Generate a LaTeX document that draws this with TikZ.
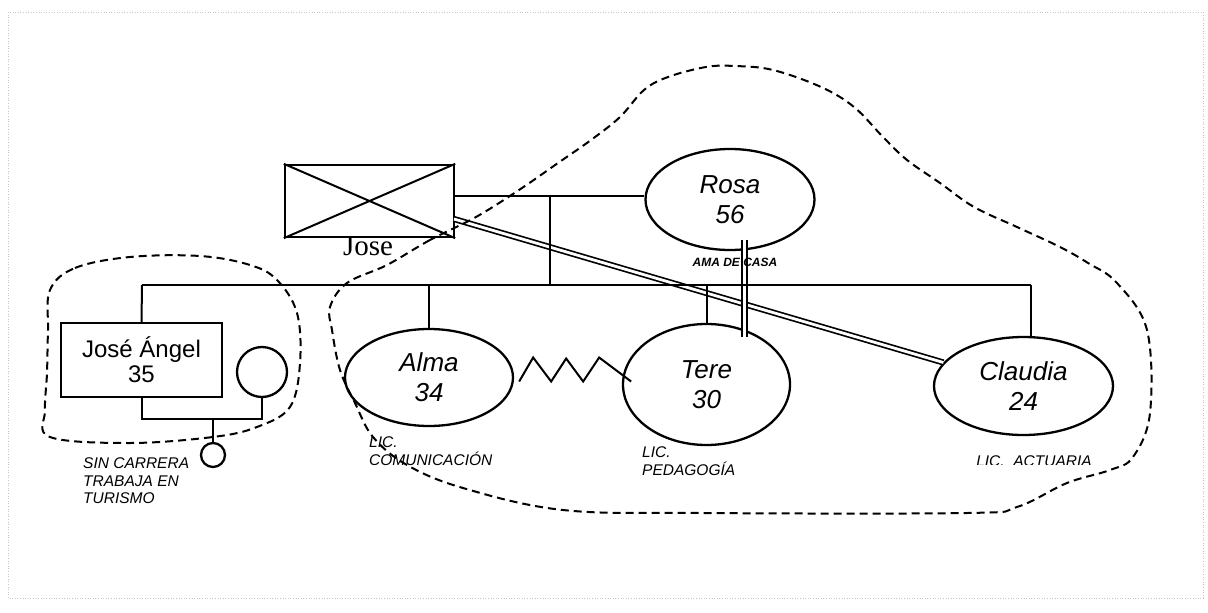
\documentclass[tikz,border=0pt]{standalone}
\usepackage{fontspec}
\setmainfont{Liberation Serif}
\setsansfont{Liberation Sans}
\usetikzlibrary{shapes.geometric}
\tikzset{
  mujer/.style={ellipse, draw, line width=2.3pt, inner sep=0pt, align=center,
    font=\sffamily\itshape\fontsize{26}{30}\selectfont},
  caja/.style={draw, line width=2.3pt, inner sep=0pt},
  nota/.style={inner sep=0pt, align=left, anchor=north west,
    font=\sffamily\itshape\fontsize{15.5}{17.5}\selectfont},
  linea/.style={line width=2pt},
  doble/.style={double, double distance=2.8pt, line width=1.7pt},
  nube/.style={dash pattern=on 8pt off 5pt, line width=2pt},
}
\begin{document}
\begin{tikzpicture}[x=1pt, y=-1pt]
\useasboundingbox (0,0) rectangle (1208,613);
% Marco
\draw[gray!45, dotted, line width=0.6pt] (8,12) rectangle (1203,598);

% Padres
\node[caja, minimum width=169pt, minimum height=72pt] (jose) at (369.5,201) {};
\draw[linea] (jose.north west) -- (jose.south east) (jose.south west) -- (jose.north east);
\node[inner sep=0pt, anchor=north, font=\fontsize{29}{32}\selectfont] (josenombre) at (368,236) {Jose};
\node[mujer, minimum width=169pt, minimum height=101pt] (rosa) at (730,199.5) {Rosa\\56};

% Hijos
\node[caja, minimum width=161pt, minimum height=74pt, align=center,
  font=\sffamily\fontsize{24}{25}\selectfont] (jangel) at (141.5,360) {José Ángel\\35};
\node[circle, draw, line width=2.3pt, minimum size=50pt, inner sep=0pt] (esposa) at (262,372) {};
\node[circle, draw, line width=2.3pt, minimum size=24pt, inner sep=0pt] (nieto) at (213,455) {};
\node[mujer, minimum width=168pt, minimum height=97pt] (alma) at (429,377.5) {Alma\\34};
\node[mujer, minimum width=167pt, minimum height=121pt] (tere) at (706.5,384.5) {Tere\\30};
\node[mujer, minimum width=179pt, minimum height=98pt] (claudia) at (1023.5,386) {Claudia\\24};

% Relaciones
\coordinate (p1) at (454,196);
\coordinate (p2) at (550,196);
\coordinate (p3) at (550,285);
\coordinate (h1) at (142,285);
\coordinate (h2) at (1031,285);
\coordinate (d1) at (454,219);
\coordinate (r1) at (744.5,240);
\coordinate (r2) at (744.5,337);
\coordinate (m) at (213,419);
\draw[doble] (d1) -- (claudia);
\draw[doble] (r1) -- (r2);
\draw[linea] (p1) -- (rosa.west |- p1);
\draw[linea] (p2) -- (p3);
\draw[linea] (h1) -- (h2);
\draw[linea] (h1) -- (jangel.north);
\draw[linea] (alma.north |- h1) -- (alma.north);
\draw[linea] (tere.north |- h1) -- (tere.north);
\draw[linea] (h2) -- (h2 |- claudia.north);
\draw[linea] (jangel.south) -- (jangel.south |- m) -| (esposa.south);
\draw[linea] (m) -- (nieto.north);
\draw[linea] (alma.east) ++(5,4) -- ++(14,-24) -- ++(18,24) -- ++(15,-23) -- ++(17,23) -- ++(16,-24) -- ++(32,24);

% Notas
\node[nota, anchor=center, font=\sffamily\itshape\bfseries\fontsize{12}{14}\selectfont] (rosanota) at (735,262) {AMA DE CASA};
\node[nota] (jangelnota) at (83,457.5) {SIN CARRERA\\TRABAJA EN\\TURISMO};
\node[nota] (almanota) at (369,436.5) {LIC.\\COMUNICACIÓN};
\node[nota] (terenota) at (642,446.5) {LIC.\\PEDAGOGÍA};
\begin{scope}
  \clip (960,440) rectangle (1110,464);
  \node[nota, anchor=north] (claudianota) at (1034,455) {LIC.\ \ ACTUARIA};
\end{scope}

% Hogares
\draw[nube] plot[smooth cycle, tension=0.6] coordinates {
  (50,290) (75,268) (130,257) (200,256) (250,265) (277,280) (297,313) (300,363)
  (290,407) (257,427) (213,437) (130,443) (50,437) (45,410) (47,373) (48,330)};
\draw[nube] plot[smooth cycle, tension=0.6] coordinates {
  (476,217) (430,240) (387,265) (347,283) (330,307) (332,330) (340,370) (355,403)
  (373,437) (407,465) (463,488) (563,510) (700,513) (967,513) (1017,507) (1067,483)
  (1110,470) (1133,457) (1150,413) (1147,330) (1117,283) (1088,263) (1060,247)
  (1017,227) (974,207) (940,183) (907,160) (883,137) (854,107) (821,87) (773,70)
  (735,66) (706,67) (668,77) (644,90) (620,117) (591,140) (558,163) (519,190)};
\end{tikzpicture}
\end{document}
